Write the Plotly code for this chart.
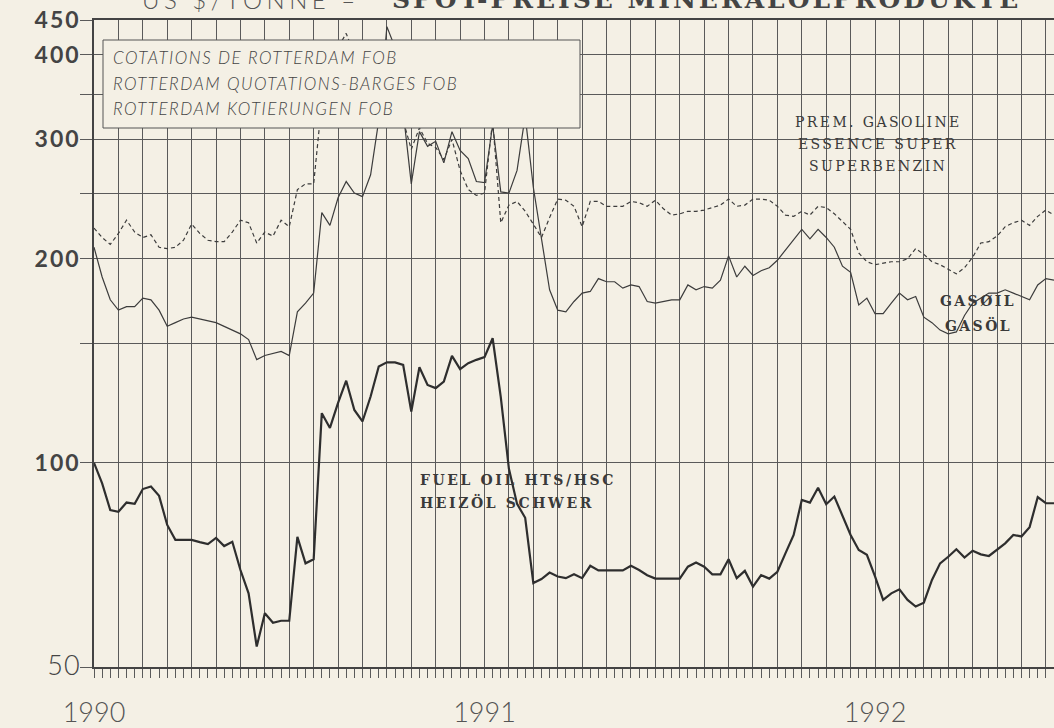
import plotly.graph_objects as go
import math

# ---------------- data (index = quarter-month steps from Jan 1990) ----------------
fuel_oil = [100, 93.3, 85.2, 84.7, 87.4, 87.0, 91.5, 92.3, 89.4, 81.0,
            77.0, 77.0, 77.0, 76.4, 75.9, 77.5, 75.4, 76.5, 69.5, 64.2,
            53.6, 60.0, 58.1, 58.5, 58.5, 77.8, 71.1, 72.1, 118.4, 112.6,
            122.6, 132.2, 119.7, 115.1, 125.3, 138.7, 140.7, 140.7, 139.5, 119.0,
            138.4, 130.3, 128.9, 131.8, 143.8, 137.5, 140.3, 141.9, 143.2, 152.7,
            125, 98, 87, 83, 66.5, 67.4, 68.9, 68.0, 67.6, 68.5,
            67.6, 70.5, 69.4, 69.4, 69.4, 69.4, 70.5, 69.5, 68.3, 67.5,
            67.5, 67.5, 67.5, 70.3, 71.3, 70.3, 68.5, 68.5, 72.1, 67.6,
            69.3, 65.7, 68.3, 67.5, 69.1, 73.6, 78.3, 88.2, 87.4, 91.9,
            86.9, 89.2, 83.3, 78.3, 74.4, 73.2, 68.0, 62.8, 64.2, 65.1,
            62.8, 61.4, 62.2, 67.2, 71.1, 72.7, 74.6, 72.5, 74.2, 73.3,
            72.9, 74.4, 76.1, 78.3, 77.9, 80.4, 89.0, 87.2, 87.2]

gasoil = [208, 188, 174, 168, 170, 170, 175, 174, 168, 159,
          161, 163, 164, 163, 162, 161, 159, 157, 155, 152,
          142, 144, 145, 146, 144, 167, 172, 178, 234, 224,
          246, 260, 250, 247, 266, 320, 440, 410, 330, 258,
          308, 293, 298, 277, 308, 289, 281, 260, 259, 315,
          251, 250, 270, 325, 255, 215, 180, 168, 167, 173,
          178, 179, 187, 185, 185, 181, 183, 182, 173, 172,
          173, 174, 174, 183, 180, 182, 181, 186, 202, 188,
          195, 189, 192, 194, 199, 206, 214, 221, 214, 221,
          215, 208, 195, 191, 171, 175, 166, 166, 172, 178,
          174, 176, 164, 161, 157, 155, 156, 165, 172, 175,
          178, 178, 180, 178, 176, 174, 183, 187, 186]

gasoline = [222, 215, 210, 218, 228, 219, 215, 217, 208, 207,
            208, 213, 225, 218, 213, 212, 212, 219, 228, 226,
            211, 219, 216, 228, 223, 253, 258, 258, 340, 390,
            410, 430, 400, 380, 395, 415, 390, 360, 320, 290,
            312, 296, 292, 280, 300, 270, 253, 248, 250, 320,
            226, 240, 243, 235, 225, 215, 230, 245, 244, 239,
            223, 243, 243, 239, 239, 239, 243, 242, 239, 244,
            237, 232, 233, 235, 235, 236, 238, 240, 245, 239,
            240, 245, 245, 244, 239, 232, 231, 235, 232, 239,
            238, 233, 227, 221, 204, 198, 196, 197, 198, 198,
            200, 207, 203, 198, 196, 193, 190, 194, 201, 211,
            212, 216, 223, 226, 228, 224, 231, 236, 232]

x_index = list(range(len(fuel_oil)))

year_labels = {0: "1990", 48: "1991", 96: "1992"}
y_ticks = [50, 100, 150, 200, 250, 300, 350, 400, 450]
y_labels = {50: "50", 100: "100", 200: "200", 300: "300", 400: "400", 450: "450"}

# ---------------- styling ----------------
BG = "#f4f0e5"
INK = "#3c3c3c"
GRID = "#5a5a5a"

W, H = 1054, 728
ML, MR, MT, MB = 94, 0, 20, 61
PW, PH = W - ML - MR, H - MT - MB


def px(xp):
    return (xp - ML) / PW


def py(yp):
    return (H - MB - yp) / PH


fig = go.Figure()
fig.add_trace(go.Scatter(x=x_index, y=gasoline, mode="lines", name="Gasoline",
                         line=dict(color=INK, width=1.2, dash="4px,3px")))
fig.add_trace(go.Scatter(x=x_index, y=gasoil, mode="lines", name="Gasoil",
                         line=dict(color=INK, width=1.2)))
fig.add_trace(go.Scatter(x=x_index, y=fuel_oil, mode="lines", name="Fuel oil",
                         line=dict(color="#2e2e2e", width=2.2)))

x_tickvals = list(range(0, 119, 3))
x_ticktext = [year_labels.get(v, "") for v in x_tickvals]

y_ticktext = []
for v in y_ticks:
    t = y_labels.get(v, "")
    if t and v != 50:
        t = "<b><span style='letter-spacing:2px'>" + t + "</span></b>"
    elif t:
        t = "<span style='font-size:27px;letter-spacing:1px'>" + t + "</span>"
    y_ticktext.append(t)

fig.update_layout(
    width=W, height=H,
    margin=dict(l=ML, r=MR, t=MT, b=MB, autoexpand=False),
    paper_bgcolor=BG, plot_bgcolor=BG,
    showlegend=False,
    xaxis=dict(range=[0, 118], tickmode="array", tickvals=x_tickvals, ticktext=x_ticktext,
               ticks="outside", ticklen=9, tickcolor=GRID, tickwidth=1,
               showgrid=True, gridcolor=GRID, gridwidth=1,
               showline=True, linecolor="#444", linewidth=1.5, mirror=True,
               zeroline=False, automargin=False,
               minor=dict(tickmode="linear", tick0=0, dtick=1, ticks="outside",
                          ticklen=9, tickcolor=GRID, tickwidth=1, showgrid=False),
               tickfont=dict(family="Lato", size=27, color="#555", weight=300),
               ticklabelstandoff=12),
    yaxis=dict(type="log", range=[math.log10(50), math.log10(450)],
               tickmode="array", tickvals=y_ticks, ticktext=y_ticktext,
               ticks="outside", ticklen=12, tickcolor=GRID, tickwidth=1,
               showgrid=True, gridcolor=GRID, gridwidth=1,
               showline=True, linecolor="#444", linewidth=1.5, mirror=True,
               zeroline=False, automargin=False,
               tickfont=dict(family="Lato", size=23, color="#444", weight=300),
               ticklabelstandoff=-5),
)

# legend-like box with the source note
fig.add_shape(type="rect", xref="paper", yref="paper",
              x0=px(103), x1=px(580), y0=py(128), y1=py(40),
              fillcolor=BG, line=dict(color="#555", width=1), layer="above")

box_font = dict(family="Lato", size=17, color="#444", style="italic", weight=300)
for txt, yp in [("COTATIONS DE ROTTERDAM FOB", 57),
                ("ROTTERDAM QUOTATIONS-BARGES FOB", 83),
                ("ROTTERDAM KOTIERUNGEN FOB", 108)]:
    fig.add_annotation(xref="paper", yref="paper", x=px(111), y=py(yp),
                       xanchor="left", yanchor="middle", showarrow=False,
                       text="<span style='letter-spacing:1.5px'>" + txt + "</span>",
                       font=box_font)

lab_font = dict(family="DejaVu Serif", size=14, color="#3a3a3a")
for txt, yp in [("PREM. GASOLINE", 122), ("ESSENCE SUPER", 144), ("SUPERBENZIN", 166)]:
    fig.add_annotation(xref="paper", yref="paper", x=px(878), y=py(yp),
                       xanchor="center", yanchor="middle", showarrow=False,
                       text="<span style='letter-spacing:2.4px'>" + txt + "</span>",
                       font=lab_font)

lab_bold = dict(family="DejaVu Serif", size=14, color="#3a3a3a", weight="bold")
for txt, yp in [("GASØIL", 301), ("GASÖL", 325)]:
    fig.add_annotation(xref="paper", yref="paper", x=px(978), y=py(yp),
                       xanchor="center", yanchor="middle", showarrow=False,
                       text="<span style='letter-spacing:2.4px'>" + txt + "</span>",
                       font=lab_bold)
for txt, yp in [("FUEL OIL HTS/HSC", 480), ("HEIZÖL SCHWER", 502)]:
    fig.add_annotation(xref="paper", yref="paper", x=px(418), y=py(yp),
                       xanchor="left", yanchor="middle", showarrow=False,
                       text="<span style='letter-spacing:2.6px'>" + txt + "</span>",
                       font=lab_bold)

# title, cut off at top edge as in the scan
fig.add_annotation(xref="paper", yref="paper", x=px(140), y=py(0),
                   xanchor="left", yanchor="middle", showarrow=False,
                   text="<span style='letter-spacing:4.5px'>US $/TONNE –</span>",
                   font=dict(family="Lato", size=24, color="#555", weight=300))
fig.add_annotation(xref="paper", yref="paper", x=px(390), y=py(0),
                   xanchor="left", yanchor="middle", showarrow=False,
                   text="<span style='letter-spacing:3px'>SPOT-PREISE MINERALÖLPRODUKTE</span>",
                   font=dict(family="DejaVu Serif", size=25, color="#444", weight="bold"))

fig.write_html("out.html", config={"displayModeBar": False},
               post_script="document.body.style.margin='0';document.body.style.overflow='hidden';")
